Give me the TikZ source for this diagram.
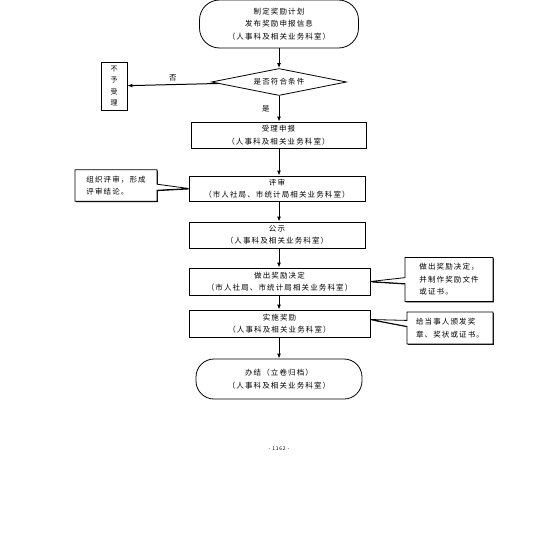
\documentclass[tikz,border=0pt]{standalone}
\usepackage{fontspec}
\newfontfamily\cjk[LetterSpace=15]{Noto Sans CJK SC}
\usetikzlibrary{shapes.geometric,shapes.callouts,arrows.meta,shadows,calc}

\begin{document}
\begin{tikzpicture}[x=1pt,y=-1pt,
  every node/.style={font=\cjk\fontsize{7.5}{12.5}\selectfont, align=center, inner sep=1pt},
  proc/.style={draw, thick, minimum height=26pt},
  term/.style={draw, thick, rectangle, rounded corners=20pt},
  cond/.style={draw, thick, diamond, aspect=5, inner sep=0pt, minimum width=135pt, minimum height=27pt},
  note/.style={draw, thick, rectangle callout, callout pointer width=6pt, align=left,
    inner sep=6pt, drop shadow={shadow xshift=0.9pt, shadow yshift=-0.9pt, fill=black, opacity=1}, fill=white},
  arr/.style={line width=1pt, -{Latex[length=5pt, width=4pt]}}]
  \useasboundingbox (0,0) rectangle (559,557);

  % start and the check
  \node[term, minimum width=159pt, minimum height=48pt] (start) at (279,24)
    {制定奖励计划\\发布奖励申报信息\\（人事科及相关业务科室）};
  \node[cond] (check) at (279,82) {是否符合条件};
  \node[draw, thick, minimum width=26pt, minimum height=48pt, inner sep=0pt,
    font=\cjk\fontsize{7}{11.5}\selectfont,
    drop shadow={shadow xshift=0.9pt, shadow yshift=-0.9pt, fill=black, opacity=1}, fill=white]
    (refuse) at (114,86) {不\\予\\受\\理};

  % main steps
  \node[proc, minimum width=175pt] (accept) at (278.5,135) {受理申报\\（人事科及相关业务科室）};
  \node[proc, minimum width=176pt, minimum height=25pt] (review) at (277,188.5) {评审\\（市人社局、市统计局相关业务科室）};
  \node[proc, minimum width=176pt] (publish) at (277,235) {公示\\（人事科及相关业务科室）};
  \node[proc, minimum width=181pt, minimum height=27pt] (decide) at (279.5,281.5) {做出奖励决定\\（市人社局、市统计局相关业务科室）};
  \node[proc, minimum width=181pt, minimum height=27pt] (award) at (279.5,323.5) {实施奖励\\（人事科及相关业务科室）};
  \node[term, rounded corners=18pt, minimum width=166pt, minimum height=40pt] (finish) at (279,379)
    {办结（立卷归档）\\（人事科及相关业务科室）};

  % side notes
  \node[note, minimum width=82pt, minimum height=31pt, callout absolute pointer={(review.west)}]
    (noteA) at (116,185.5) {组织评审，形成\\评审结论。};
  \node[note, minimum width=88pt, minimum height=41pt, callout absolute pointer={(decide.east)}]
    (noteB) at (449,279.5) {做出奖励决定，\\并制作奖励文件\\或证书。};
  \node[note, minimum width=86pt, minimum height=32pt, callout absolute pointer={($(award.east)+(0,-4)$)}]
    (noteC) at (450,328) {给当事人颁发奖\\章、奖状或证书。};

  % arrows, all on the same vertical line
  \draw[arr] (start) -- (check);
  \draw[arr] (check) -- node[above=2pt] {否} (refuse);
  \draw[arr] (check.south) -- node[left=8pt] {是} (check.south |- accept.north);
  \draw[arr] (check.south |- accept.south) -- (check.south |- review.north);
  \draw[arr] (check.south |- review.south) -- (check.south |- publish.north);
  \draw[arr] (check.south |- publish.south) -- (check.south |- decide.north);
  \draw[arr] (check.south |- decide.south) -- (check.south |- award.north);
  \draw[arr] (check.south |- award.south) -- (finish);

  % page number
  \node[font=\cjk\fontsize{5}{6}\selectfont] (page) at (279,449) {- 1162 -};
\end{tikzpicture}
\end{document}
